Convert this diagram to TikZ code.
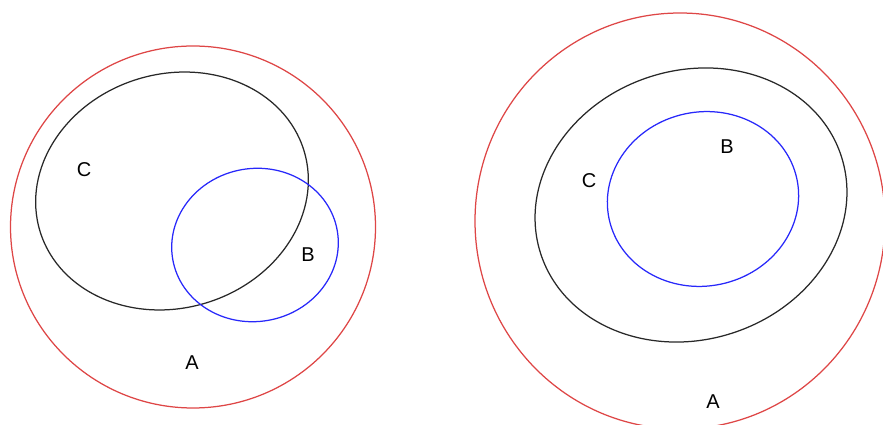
\documentclass[tikz,border=0pt]{standalone}
\usepackage{fontspec}
\setmainfont{Liberation Sans}
\definecolor{setred}{RGB}{222,70,70}
\definecolor{setblue}{RGB}{40,40,250}
\definecolor{setblack}{RGB}{40,40,40}
\begin{document}
\begin{tikzpicture}[x=1pt,y=1pt,
  setline/.style={line width=1.25pt},
  lbl/.style={font=\fontsize{20}{24}\selectfont, inner sep=0pt}]
\useasboundingbox (0,0) rectangle (883,425);
\clip (0,0) rectangle (883,425);
% left diagram
\draw[setline, setred] (193,198) ellipse [x radius=182.5pt, y radius=181pt];
\draw[setline, setblack, rotate around={17:(172,234)}] (172,234) ellipse [x radius=138pt, y radius=117pt];
\draw[setline, setblue, rotate around={10:(255,180)}] (255,180) ellipse [x radius=83.5pt, y radius=76.5pt];
\node[lbl] (lC) at (84,255) {C};
\node[lbl] (lB) at (308,170) {B};
\node[lbl] (lA) at (192,62) {A};
% right diagram
\draw[setline, setred] (680,204) ellipse [x radius=205pt, y radius=208pt];
\draw[setline, setblack, rotate around={18:(691,220)}] (691,220) ellipse [x radius=158pt, y radius=134.6pt];
\draw[setline, setblue, rotate around={12:(703,226)}] (703,226) ellipse [x radius=96pt, y radius=87pt];
\node[lbl] (rB) at (727,278) {B};
\node[lbl] (rC) at (589,244) {C};
\node[lbl] (rA) at (713,23) {A};
\end{tikzpicture}
\end{document}
